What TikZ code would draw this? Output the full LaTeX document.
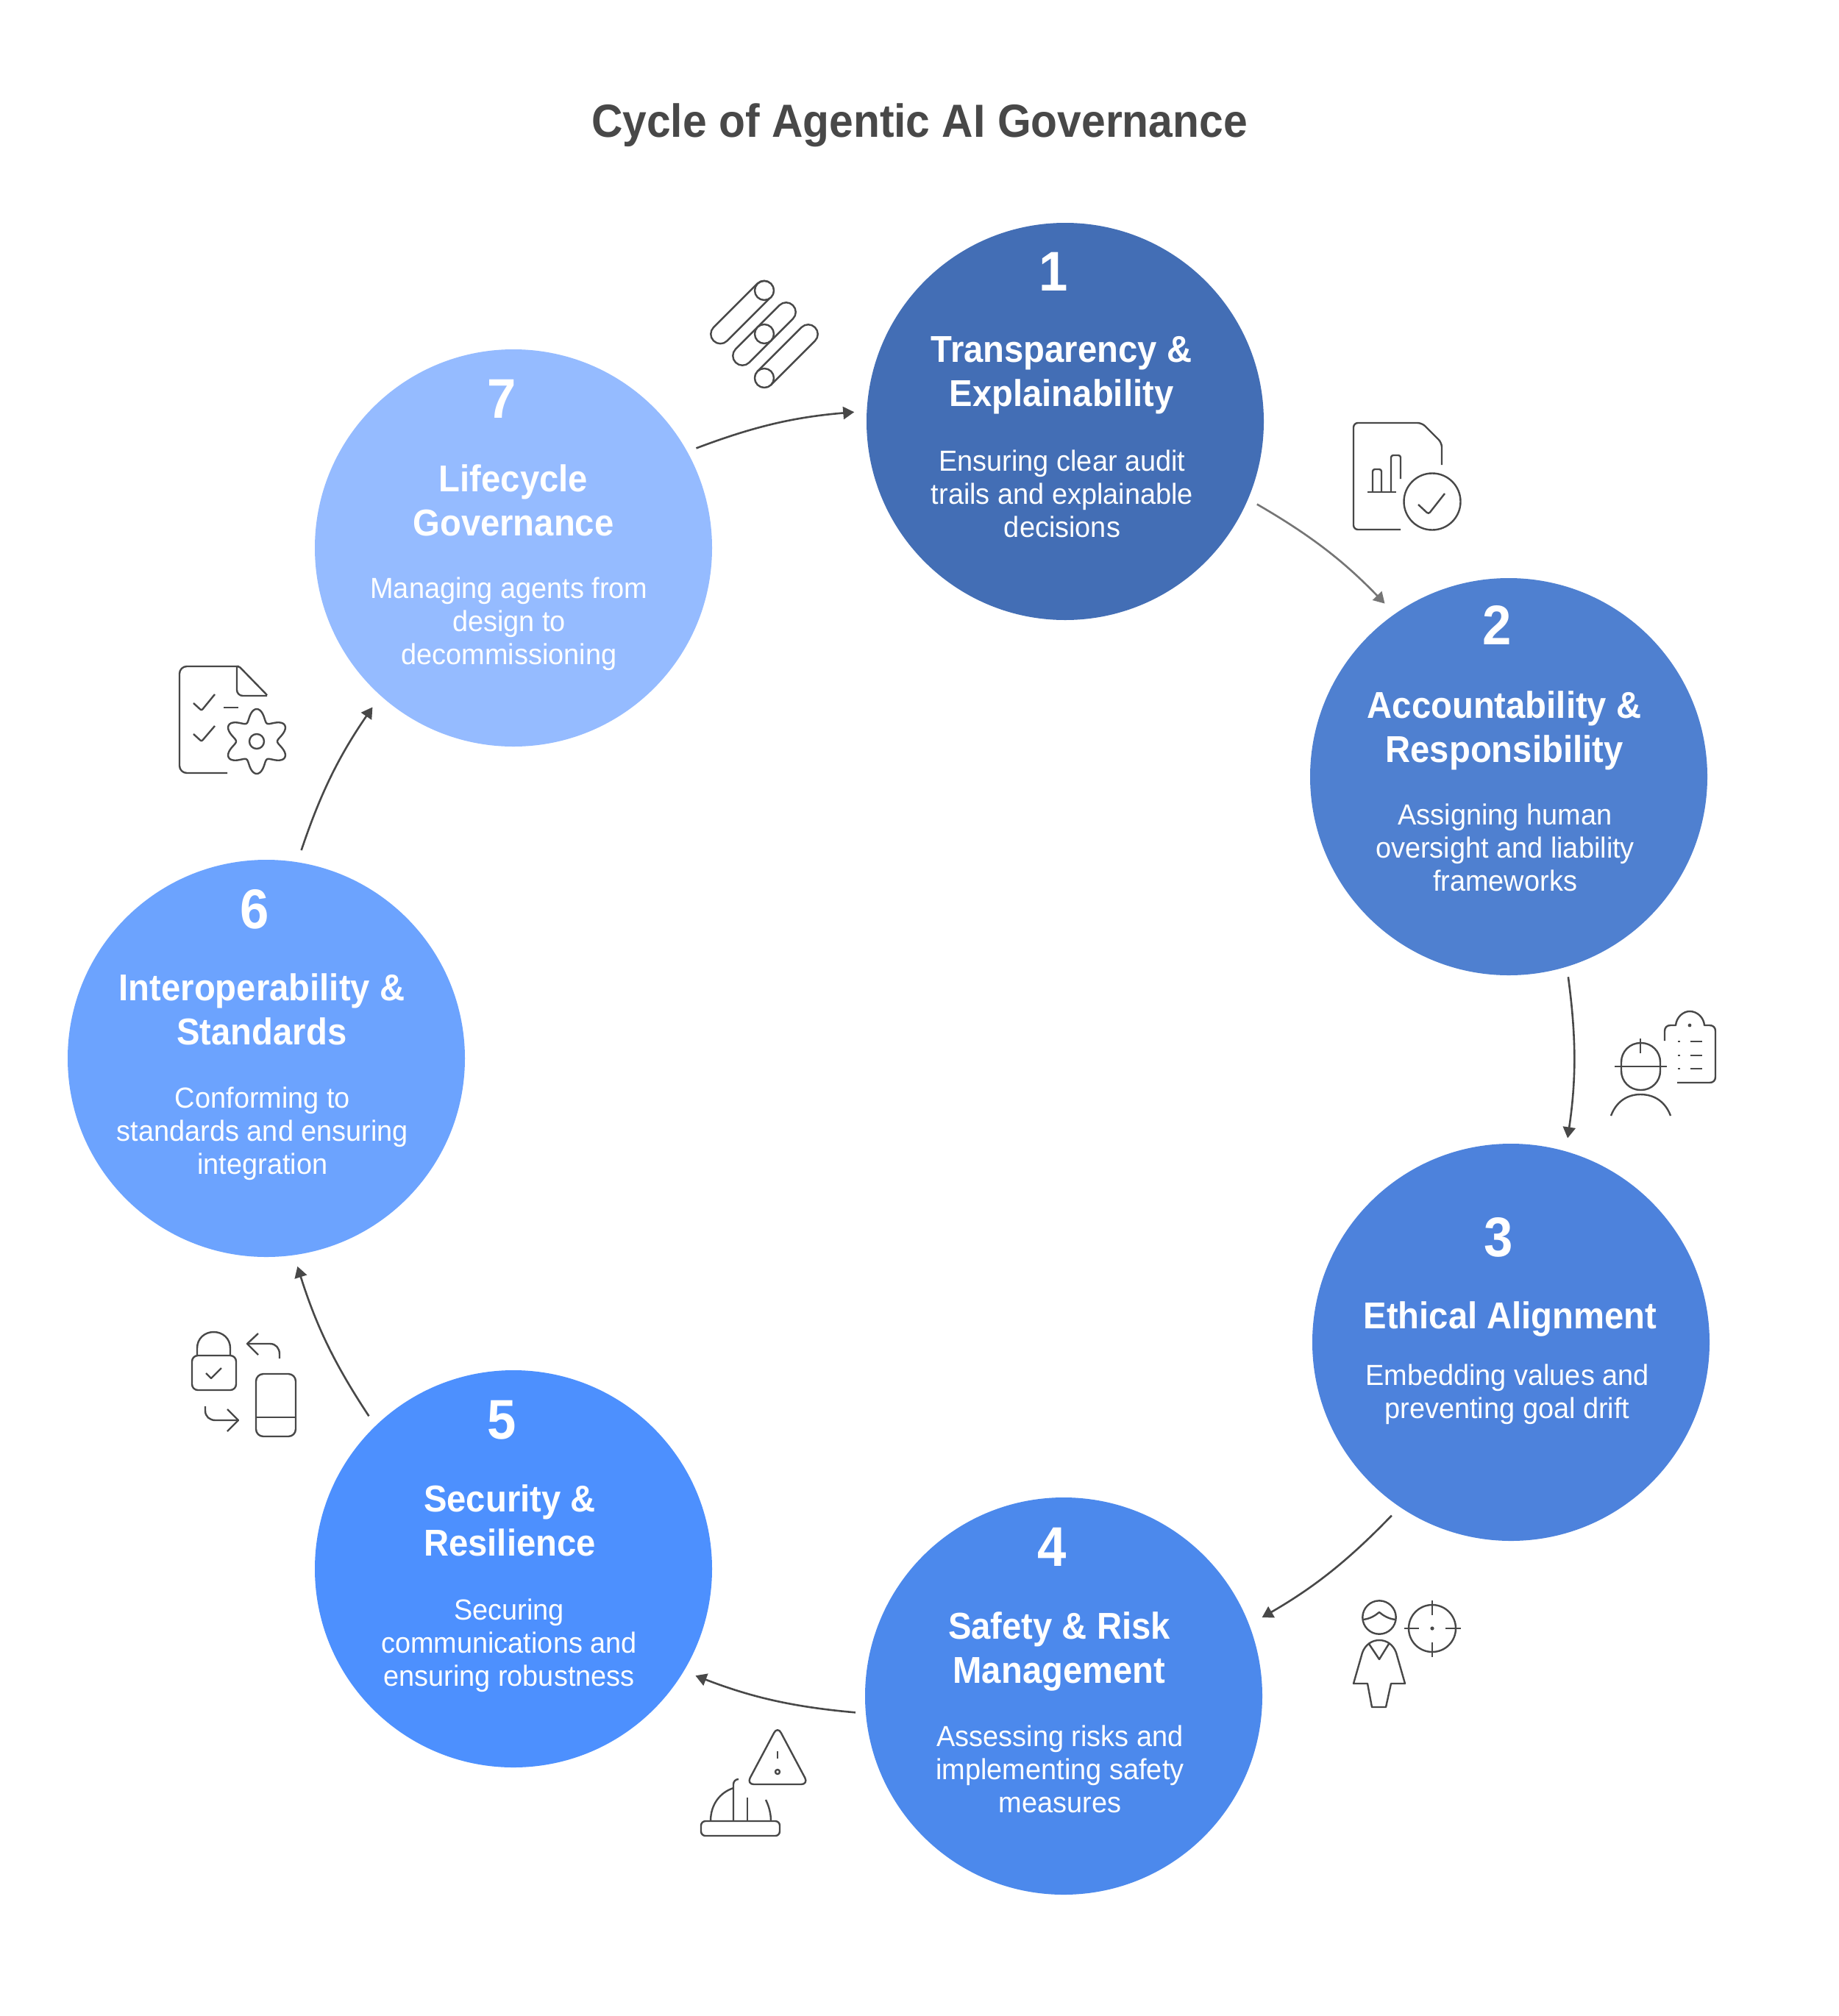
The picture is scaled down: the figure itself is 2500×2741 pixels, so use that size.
\documentclass[tikz,border=0pt]{standalone}
\usepackage{fontspec}
\usetikzlibrary{arrows.meta}
\setmainfont{Liberation Sans}
\newfontfamily\headfont[FakeStretch=0.93]{Liberation Sans Bold}
\newfontfamily\bodyfont[FakeStretch=0.96]{Liberation Sans}
\definecolor{ink}{HTML}{484848}
\definecolor{inkl}{HTML}{757575}
\definecolor{cA}{HTML}{436EB5}
\definecolor{cB}{HTML}{4F80D0}
\definecolor{cC}{HTML}{4D82DC}
\definecolor{cD}{HTML}{4C89EC}
\definecolor{cE}{HTML}{4D90FE}
\definecolor{cF}{HTML}{6CA3FE}
\definecolor{cG}{HTML}{95BBFF}
\tikzset{
  stepcircle/.style={circle,minimum size=540pt,inner sep=0pt,draw=none,fill=#1},
  numtext/.style={text=white,inner sep=0pt,font=\headfont\fontsize{76}{76}\selectfont},
  headtext/.style={text=white,inner sep=0pt,align=center,font=\headfont\fontsize{50.8}{60}\selectfont},
  bodytext/.style={text=white,inner sep=0pt,align=center,font=\bodyfont\fontsize{39.5}{45}\selectfont},
  titletext/.style={text=ink,inner sep=0pt,font=\headfont\fontsize{63.2}{63}\selectfont},
  arr/.style={draw=ink,line width=2.6pt,-{Triangle[length=15pt,width=17pt]}},
  arrl/.style={draw=inkl,line width=2.6pt,-{Triangle[length=15pt,width=17pt]}},
  icon/.style={draw=ink,line width=2.4pt,line join=round,fill=none},
}
\begin{document}
\begin{tikzpicture}[x=1pt,y=-1pt]
\useasboundingbox (0,0) rectangle (2500,2741);
\fill[white] (0,0) rectangle (2500,2741);
\node[titletext] (title) at (1250,170) {Cycle of Agentic AI Governance};

\node[stepcircle=cA] (c1) at (1448,573) {};
\node[stepcircle=cB] (c2) at (2051,1056) {};
\node[stepcircle=cC] (c3) at (2054,1825) {};
\node[stepcircle=cD] (c4) at (1446,2306) {};
\node[stepcircle=cE] (c5) at (698,2133) {};
\node[stepcircle=cF] (c6) at (362,1439) {};
\node[stepcircle=cG] (c7) at (698,745) {};

\node[numtext] (n1) at (1432,369.5) {1};
\node[headtext] (h1) at (1443,510) {Transparency \&\\Explainability};
\node[bodytext] (b1) at (1444,671) {Ensuring clear audit\\trails and explainable\\decisions};
\node[numtext] (n2) at (2035,850) {2};
\node[headtext] (h2) at (2045,993) {Accountability \&\\Responsibility};
\node[bodytext] (b2) at (2046,1152.5) {Assigning human\\oversight and liability\\frameworks};
\node[numtext] (n3) at (2037,1682.5) {3};
\node[headtext] (h3) at (2053,1793) {Ethical Alignment};
\node[bodytext] (b3) at (2049,1896) {Embedding values and\\preventing goal drift};
\node[numtext] (n4) at (1430,2103.5) {4};
\node[headtext] (h4) at (1440,2245) {Safety \& Risk\\Management};
\node[bodytext] (b4) at (1441,2405.5) {Assessing risks and\\implementing safety\\measures};
\node[numtext] (n5) at (682,1930.5) {5};
\node[headtext] (h5) at (693,2067) {Security \&\\Resilience};
\node[bodytext] (b5) at (692,2237) {Securing\\communications and\\ensuring robustness};
\node[numtext] (n6) at (346,1236.5) {6};
\node[headtext] (h6) at (356,1372) {Interoperability \&\\Standards};
\node[bodytext] (b6) at (357,1541) {Conforming to\\standards and ensuring\\integration};
\node[numtext] (n7) at (682,542.5) {7};
\node[headtext] (h7) at (698,680) {Lifecycle\\Governance};
\node[bodytext] (b7) at (692,848) {Managing agents from\\design to\\decommissioning};

% connectors
\draw[arrl,shorten <=14pt,shorten >=19.5pt] (c1.-23) to[bend left=8] (c2.125.7);
\draw[arr,shorten <=14pt,shorten >=18pt] (c2.-73) to[bend left=8] (c3.74);
\draw[arr,shorten <=16pt,shorten >=20pt] (c3.-124.5) to[bend left=8] (c4.21);
\draw[arr,shorten <=14pt,shorten >=17pt] (c4.-175.4) to[bend left=8] (c5.-31.6);
\draw[arr,shorten <=16pt,shorten >=16pt] (c5.134.3) to[bend left=8] (c6.-82.6);
\draw[arr,shorten <=17pt,shorten >=19pt] (c6.81.6) to[bend left=8] (c7.228);
\draw[arr,shorten <=13pt,shorten >=17pt] (c7.29) to[bend left=8] (c1.177.6);

% icon: capsules
\draw[icon,shift={(1009,424.5)},rotate=45,rounded corners=12.9pt] (-55,-13) rectangle (55,13);
\draw[icon,shift={(1039,454)},rotate=45,rounded corners=12.9pt] (-55,-13) rectangle (55,13);
\draw[icon,shift={(1069,484)},rotate=45,rounded corners=12.9pt] (-55,-13) rectangle (55,13);
\draw[icon,fill=white] (1039,395) circle[radius=13];
\draw[icon,fill=white] (1039,454) circle[radius=13];
\draw[icon,fill=white] (1039,514) circle[radius=13];

% icon: report with check
\draw[icon,rounded corners=6pt] (1904,720) -- (1840,720) -- (1840,575) -- (1933,575) -- (1960,602) -- (1960,632);
\draw[icon,rounded corners=3pt] (1866,669) -- (1866,638) -- (1878,638) -- (1878,669);
\draw[icon,rounded corners=3pt] (1891,669) -- (1891,619) -- (1904,619) -- (1904,651);
\draw[icon] (1859,669) -- (1898,669);
\draw[icon] (1947,682) circle[radius=38.5];
\draw[icon,rounded corners=3pt] (1928,686) -- (1942,699) -- (1964,671);

% icon: worker and clipboard
\draw[icon,rounded corners=26pt] (2204,1418) rectangle (2257,1482);
\draw[icon] (2230,1412) -- (2230,1432);
\draw[icon] (2195,1450) -- (2266,1450);
\draw[icon] (2190,1517) .. controls (2197,1498) and (2212,1488) .. (2230,1488) .. controls (2249,1488) and (2264,1498) .. (2271,1517);
\draw[icon] (2263,1415) -- (2263,1402) .. controls (2263,1397) and (2266,1394) .. (2271,1394) -- (2278,1394) .. controls (2279,1383) and (2288,1375) .. (2297,1375) .. controls (2307,1375) and (2316,1383) .. (2317,1394) -- (2324,1394) .. controls (2329,1394) and (2332,1397) .. (2332,1402) -- (2332,1464) .. controls (2332,1469) and (2329,1472) .. (2324,1472) -- (2280,1472);
\fill[ink] (2297,1394) circle[radius=2.4];
\foreach \yy in {1416,1435,1453}{
  \draw[icon] (2281,\yy) -- (2284,\yy);
  \draw[icon] (2298,\yy) -- (2314,\yy);
}

% icon: person and target
\draw[icon] (1875,2199) circle[radius=22.7];
\draw[icon] (1853,2202) .. controls (1862,2201) and (1869,2197) .. (1875,2192) .. controls (1881,2197) and (1888,2201) .. (1897,2202);
\draw[icon] (1840,2289) -- (1852,2247) .. controls (1856,2236) and (1865,2230) .. (1875,2230) .. controls (1885,2230) and (1894,2236) .. (1898,2247) -- (1910,2289) -- (1891,2289) -- (1884,2321) -- (1865,2321) -- (1859,2289) -- cycle;
\draw[icon] (1861,2235) -- (1875,2256) -- (1888,2235);
\draw[icon] (1947,2214) circle[radius=32];
\draw[icon] (1947,2176) -- (1947,2196) (1947,2233) -- (1947,2253) (1909,2214) -- (1929,2214) (1965,2214) -- (1986,2214);
\fill[ink] (1947,2214) circle[radius=2.6];

% icon: warning and hard hat
\draw[icon,rounded corners=10pt] (1057,2347) -- (1099,2426) -- (1015,2426) -- cycle;
\draw[icon] (1057,2381) -- (1057,2391);
\draw[icon] (1057,2409) circle[radius=3];
\draw[icon,rounded corners=6pt] (953,2476) rectangle (1060,2496);
\draw[icon] (966,2476) .. controls (966,2453) and (979,2437) .. (997,2431);
\draw[icon] (997,2476) -- (997,2426) .. controls (997,2422) and (1000,2419) .. (1004,2419);
\draw[icon] (1016,2476) -- (1016,2444);
\draw[icon] (1041,2447) .. controls (1045,2455) and (1048,2465) .. (1048,2476);

% icon: lock and device
\draw[icon,rounded corners=8pt] (261,1843) rectangle (321,1890);
\draw[icon] (268,1843) -- (268,1833) .. controls (268,1820) and (278,1811) .. (290.5,1811) .. controls (303,1811) and (313,1820) .. (313,1833) -- (313,1843);
\draw[icon] (280,1867) -- (287,1874) -- (301,1860);
\draw[icon] (351,1813) -- (336,1827) -- (351,1842);
\draw[icon] (336,1827) -- (367,1827) .. controls (375,1827) and (380,1833) .. (380,1841) -- (380,1847);
\draw[icon,rounded corners=10pt] (348,1868) rectangle (402,1953);
\draw[icon] (348,1927) -- (402,1927);
\draw[icon] (279,1912) -- (279,1918) .. controls (279,1926) and (285,1931) .. (293,1931) -- (324,1931);
\draw[icon] (309,1916) -- (324,1931) -- (309,1946);

% icon: checklist and gear
\draw[icon,rounded corners=10pt] (309,1051) -- (244,1051) -- (244,906) -- (325,906);
\draw[icon,rounded corners=2pt] (322,906) -- (325,906) -- (363,945);
\draw[icon,rounded corners=8pt] (322,906) -- (322,946) -- (363,946);
\draw[icon,rounded corners=2pt] (263,956) -- (274,966) -- (292,944);
\draw[icon,rounded corners=2pt] (263,998) -- (274,1008) -- (292,987);
\draw[icon] (304,962) -- (324,962);
\draw[icon,samples=145,domain=0:360,smooth] plot ({349+(36-8*cos(6*\x))*cos(\x)},{1008+(36-8*cos(6*\x))*sin(\x)}) -- cycle;
\draw[icon] (349,1008) circle[radius=10];
\end{tikzpicture}
\end{document}
